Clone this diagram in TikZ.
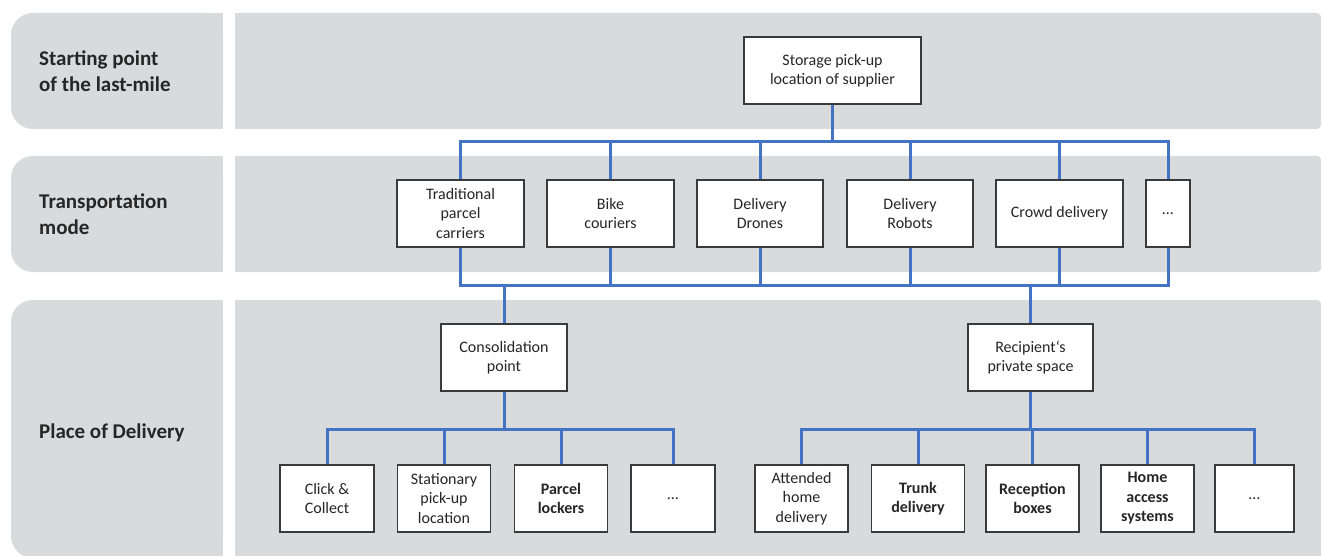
\documentclass[tikz,border=0pt]{standalone}
\usepackage{fontspec}
\setmainfont{Carlito}
\definecolor{bandgray}{HTML}{D9DADC}
\definecolor{connblue}{HTML}{4472C4}
\definecolor{boxline}{HTML}{3A3A3A}
\definecolor{txt}{HTML}{262626}
\newcommand\myboxfont{\fontsize{16}{19.5}\selectfont}
\newcommand\mylabfont{\fontsize{21}{25.7}\selectfont\bfseries}
\tikzset{
  box/.style={draw=boxline, fill=white, line width=1.4pt, align=center, inner sep=0pt,
    font=\myboxfont, text=txt, minimum height=67pt},
  rowlabel/.style={anchor=west, align=left, inner sep=0pt, font=\mylabfont, text=txt},
  conn/.style={draw=connblue, line width=3pt},
  band/.style={fill=bandgray}
}
\begin{document}
\begin{tikzpicture}[x=1pt,y=-1pt]
\clip (0,0) rectangle (1322,556);
\useasboundingbox (0,0) rectangle (1322,556);
% bands left
\fill[band, rounded corners=22pt] (11,13) rectangle (223,129);
\fill[band] (120,13) rectangle (223,129);
\fill[band, rounded corners=22pt] (11,156) rectangle (223,272);
\fill[band] (120,156) rectangle (223,272);
\fill[band, rounded corners=22pt] (11,300) rectangle (223,558);
\fill[band] (120,300) rectangle (223,558);
% bands right
\fill[band, rounded corners=4pt] (235,13) rectangle (1321,129);
\fill[band] (235,13) rectangle (600,129);
\fill[band, rounded corners=4pt] (235,156) rectangle (1321,272);
\fill[band] (235,156) rectangle (600,272);
\fill[band, rounded corners=4pt] (235,300) rectangle (1321,560);
\fill[band] (235,300) rectangle (600,560);
% row labels
\node[rowlabel] (lab1) at (39,71.5) {Starting point\\of the last-mile};
\node[rowlabel] (lab2) at (39,214.5) {Transportation\\mode};
\node[rowlabel] (lab3) at (39,433) {Place of Delivery};
% bus coordinates
\coordinate (busA) at (0,142);
\coordinate (busB) at (0,285);
\coordinate (busL) at (0,429);
% nodes
\node[box, minimum width=177pt] (store) at (832.5,70.5) {Storage pick-up\\location of supplier};
\node[box, minimum width=127pt] (trad) at (460.5,213.5) {Traditional\\parcel\\carriers};
\node[box, minimum width=127pt] (bike) at (610.5,213.5) {Bike\\couriers};
\node[box, minimum width=126pt] (drones) at (760,213.5) {Delivery\\Drones};
\node[box, minimum width=126pt] (robots) at (910,213.5) {Delivery\\Robots};
\node[box, minimum width=127pt] (crowd) at (1059.5,213.5) {Crowd delivery};
\node[box, minimum width=44pt] (dotsT) at (1168,213.5) {…};
\node[box, minimum width=126pt] (cons) at (504,357.5) {Consolidation\\point};
\node[box, minimum width=125pt] (recip) at (1030.5,357.5) {Recipient‘s\\private space};
\node[box, minimum width=94pt] (click) at (327,498.5) {Click \&\\Collect};
\node[box, minimum width=93pt] (stat) at (444,498.5) {Stationary\\pick-up\\location};
\node[box, minimum width=93pt] (parcel) at (561,498.5) {\bfseries Parcel\\\bfseries lockers};
\node[box, minimum width=84pt] (dotsL) at (673,498.5) {…};
\node[box, minimum width=93pt] (att) at (801.5,498.5) {Attended\\home\\delivery};
\node[box, minimum width=93pt] (trunk) at (918,498.5) {\bfseries Trunk\\\bfseries delivery};
\node[box, minimum width=93pt] (recep) at (1032.5,498.5) {\bfseries Reception\\\bfseries boxes};
\node[box, minimum width=93pt] (home) at (1147.5,498.5) {\bfseries Home\\\bfseries access\\\bfseries systems};
\node[box, minimum width=79pt] (dotsR) at (1254.5,498.5) {…};
% connectors top
\draw[conn] (store.south) -- (store.south |- busA);
\draw[conn] (trad.north) |- (dotsT.north |- busA) -- (dotsT.north);
\foreach \n in {bike,drones,robots,crowd} \draw[conn] (\n.north) -- (\n.north |- busA);
% connectors middle
\draw[conn] (trad.south) |- (dotsT.south |- busB) -- (dotsT.south);
\foreach \n in {bike,drones,robots,crowd} \draw[conn] (\n.south) -- (\n.south |- busB);
\draw[conn] (cons.north) -- (cons.north |- busB);
\draw[conn] (recip.north) -- (recip.north |- busB);
% connectors bottom left
\draw[conn] (click.north) |- (dotsL.north |- busL) -- (dotsL.north);
\foreach \n in {stat,parcel} \draw[conn] (\n.north) -- (\n.north |- busL);
\draw[conn] (cons.south) -- (cons.south |- busL);
% connectors bottom right
\draw[conn] (att.north) |- (dotsR.north |- busL) -- (dotsR.north);
\foreach \n in {trunk,recep,home} \draw[conn] (\n.north) -- (\n.north |- busL);
\draw[conn] (recip.south) -- (recip.south |- busL);
\end{tikzpicture}
\end{document}
